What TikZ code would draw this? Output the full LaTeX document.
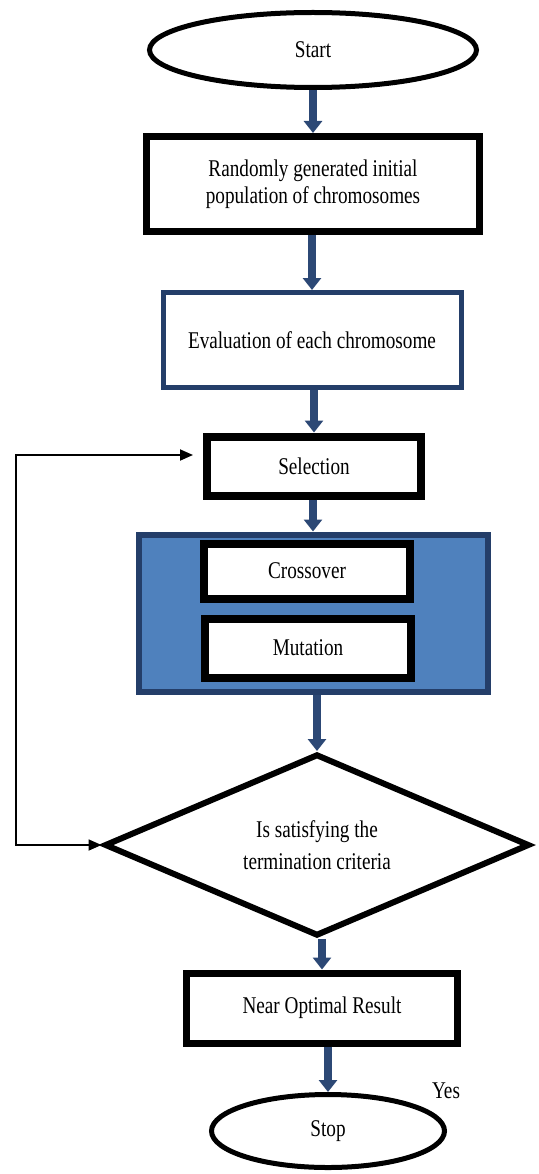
\documentclass[tikz,border=0pt]{standalone}
\usepackage{fontspec}
\setmainfont{Liberation Serif}[FakeStretch=0.8]
\usepackage{tikz}
\usetikzlibrary{positioning,shapes,arrows,arrows.meta,calc}
\definecolor{arrowblue}{RGB}{44,72,117}
\definecolor{navy}{RGB}{36,62,105}
\definecolor{groupblue}{RGB}{79,129,189}

\begin{document}
\begin{tikzpicture}[x=1pt,y=1pt,node distance=130pt,
                    font=\fontsize{24}{27}\selectfont]
  \tikzstyle{term}=[ellipse, draw, line width=5pt, inner sep=0pt]
  \tikzstyle{block}=[rectangle, draw, fill=white, line width=7pt, align=center, inner sep=0pt]
  \tikzstyle{flow}=[-{Triangle[width=18pt,length=12pt]}, line width=7.5pt, draw=arrowblue]
  \tikzstyle{back}=[{Triangle[width=11pt,length=13pt]}-{Triangle[width=11pt,length=13pt]}, line width=1.8pt]

  \useasboundingbox (0,0) rectangle (538,-1174);

  \node[term, minimum width=327pt, minimum height=75pt] (start) at (313,-50) {Start};
  \node[block, minimum width=333pt, minimum height=95pt] (init) [below of=start, node distance=134pt]
       {Randomly generated initial\\population of chromosomes};
  \node[block, draw=navy, line width=5pt, minimum width=298pt, minimum height=95pt] (eval)
       [below of=init, node distance=156pt, xshift=-1pt] {Evaluation of each chromosome};
  \node[block, line width=8pt, minimum width=214pt, minimum height=59pt] (sel)
       [below of=eval, node distance=126pt, xshift=2pt] {Selection};

  % group box with the two operators
  \node[rectangle, draw=navy, fill=groupblue, line width=6pt, minimum width=349pt,
        minimum height=157pt] (ops) [below of=sel, node distance=147pt, xshift=-1pt] {};
  \node[block, line width=8pt, minimum width=206pt, minimum height=55pt] (cross)
       [above of=ops, node distance=42pt, xshift=-6pt] {Crossover};
  \node[block, line width=8pt, minimum width=206pt, minimum height=59pt] (mut)
       [below of=cross, node distance=77pt, xshift=1pt] {Mutation};

  \node[diamond, draw, fill=white, aspect=2.3, line width=6pt, inner sep=0pt, align=center,
        minimum width=425pt, minimum height=182pt, font=\fontsize{24}{32}\selectfont] (dec)
       [below of=ops, node distance=232pt, xshift=4pt] {Is satisfying the\\termination criteria};
  \node[block, minimum width=271pt, minimum height=70pt] (near)
       [below of=dec, node distance=163pt, xshift=5pt] {Near Optimal Result};
  \node[term, minimum width=233pt, minimum height=73pt] (stop)
       [below of=near, node distance=123pt, xshift=6pt] {Stop};
  \node (yes) at (446,-1091) {Yes};

  \path (init.north |- start.south) edge[flow] (init.north)
        (eval.north |- init.south) edge[flow] (eval.north)
        (sel.north |- eval.south) edge[flow] (sel.north)
        (ops.north |- sel.south) edge[flow] (ops.north)
        (dec.north |- ops.south) edge[flow] (dec.north)
        (near.north |- dec.south) edge[flow] (near.north)
        (stop.north |- near.south) edge[flow] (stop.north);

  % loop back to selection
  \coordinate (corner) at (16,-455);
  \draw[back] (dec.west) -| (corner) -- ([xshift=-10pt]sel.west |- corner);

\end{tikzpicture}
\end{document}
